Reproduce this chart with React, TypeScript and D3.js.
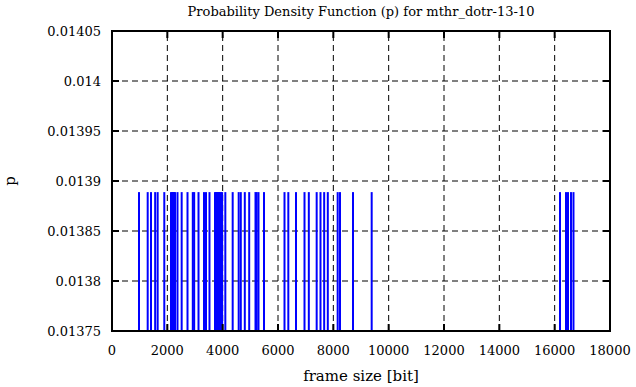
import * as d3 from 'd3';

// frame sizes seen in the trace (bits), each with p = 1/72
const frameSizes = [
  976, 1290, 1410, 1560, 1650, 1890, 2133, 2170, 2205, 2240, 2277, 2367, 2518,
  2729, 2920, 2970, 3127, 3325, 3398, 3524, 3723, 3760, 3795, 3830, 3867, 3900,
  3940, 3980, 4096, 4362, 4579, 4655, 4800, 4959, 5187, 5230, 5295, 5494,
  6235, 6373, 6651, 6958, 7114, 7398, 7536, 7669, 7800, 8157, 8241, 8711, 9386,
  16193, 16410, 16482, 16590, 16680,
];
const probability = 1 / 72;

const xTicks = [0, 2000, 4000, 6000, 8000, 10000, 12000, 14000, 16000, 18000];
const yTicks = [0.01375, 0.0138, 0.01385, 0.0139, 0.01395, 0.014, 0.01405];
const yTickLabels = ['0.01375', '0.0138', '0.01385', '0.0139', '0.01395', '0.014', '0.01405'];

const width = 636;
const height = 387;
const margin = { top: 31, right: 26, bottom: 56, left: 112 };
const font = "'DejaVu Serif', serif";

export default function App() {
  const x = d3.scaleLinear().domain([0, 18000]).range([margin.left, width - margin.right]);
  const y = d3.scaleLinear().domain([0.01375, 0.01405]).range([height - margin.bottom, margin.top]);
  const [x0, x1] = x.range();
  const [y0, y1] = y.range();
  const tick = 7;
  const txt = { fontFamily: font, fontSize: 13 };

  return (
    <svg width={width} height={height} style={{ position: 'absolute', left: 0, top: 0, background: '#fff' }}>
      {/* grid */}
      <g stroke="#000" strokeWidth={1} strokeDasharray="6,4">
        {xTicks.slice(1, -1).map(t => (
          <line key={'gx' + t} x1={x(t)} x2={x(t)} y1={y0} y2={y1} />
        ))}
        {yTicks.slice(1, -1).map(t => (
          <line key={'gy' + t} x1={x0} x2={x1} y1={y(t)} y2={y(t)} />
        ))}
      </g>

      {/* impulses */}
      <g stroke="#0000ff" strokeWidth={2}>
        {frameSizes.map((f, i) => (
          <line key={i} x1={x(f)} x2={x(f)} y1={y0} y2={y(probability)} />
        ))}
      </g>

      {/* ticks on all sides */}
      <g stroke="#000" strokeWidth={2}>
        {xTicks.map(t => (
          <g key={'tx' + t}>
            <line x1={x(t)} x2={x(t)} y1={y0} y2={y0 - tick} />
            <line x1={x(t)} x2={x(t)} y1={y1} y2={y1 + tick} />
          </g>
        ))}
        {yTicks.map(t => (
          <g key={'ty' + t}>
            <line x1={x0} x2={x0 + tick} y1={y(t)} y2={y(t)} />
            <line x1={x1} x2={x1 - tick} y1={y(t)} y2={y(t)} />
          </g>
        ))}
      </g>

      {/* border */}
      <rect x={x0} y={y1} width={x1 - x0} height={y0 - y1} fill="none" stroke="#000" strokeWidth={2} />

      {/* tick labels */}
      <g style={txt} fill="#000">
        {xTicks.map(t => (
          <text key={'lx' + t} x={x(t)} y={y0 + 24} textAnchor="middle">{t}</text>
        ))}
        {yTicks.map((t, i) => (
          <text key={'ly' + t} x={x0 - 11} y={y(t) + 5} textAnchor="end">{yTickLabels[i]}</text>
        ))}
      </g>

      <text x={(x0 + x1) / 2} y={16} textAnchor="middle" style={txt}>
        Probability Density Function (p) for mthr_dotr-13-10
      </text>
      <text x={(x0 + x1) / 2} y={381} textAnchor="middle" style={{ fontFamily: font, fontSize: 15 }}>
        frame size [bit]
      </text>
      <text transform={`translate(15, ${y(0.0139)}) rotate(-90)`} textAnchor="middle" style={{ fontFamily: font, fontSize: 15 }}>
        p
      </text>
    </svg>
  );
}
